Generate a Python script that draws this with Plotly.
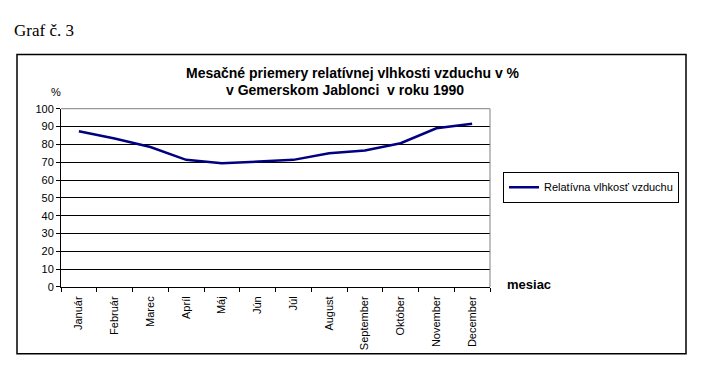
import plotly.graph_objects as go

months = ["Január", "Február", "Marec", "Apríl", "Máj", "Jún", "Júl",
          "August", "September", "Október", "November", "December"]
humidity = [87.3, 83.3, 78.5, 71.3, 69.4, 70.4, 71.3, 75.0, 76.6, 80.6, 89.0, 91.6]
y_ticks = [0, 10, 20, 30, 40, 50, 60, 70, 80, 90, 100]

W, H = 704, 385
px_l, px_r, px_t, px_b = 61, 490, 106, 290

fig = go.Figure()
fig.add_trace(go.Scatter(
    x=months, y=humidity, mode="lines",
    line=dict(color="#000080", width=2.5),
    name="Relatívna vlhkosť vzduchu",
))

fig.update_layout(
    width=W, height=H,
    margin=dict(l=0, r=0, t=0, b=0),
    paper_bgcolor="white", plot_bgcolor="white",
    font=dict(family="Liberation Sans, Arial, sans-serif", size=11, color="black"),
    showlegend=True,
    legend=dict(
        x=503 / W, y=1 - 171 / H, xanchor="left", yanchor="top",
        bordercolor="black", borderwidth=1, bgcolor="white",
        font=dict(size=11), itemwidth=30,
    ),
    xaxis=dict(
        domain=[px_l / W, px_r / W],
        type="category", categoryorder="array", categoryarray=months,
        tickson="boundaries", ticks="outside", ticklen=4, tickcolor="black",
        showline=True, linecolor="black", linewidth=1,
        showgrid=False, tickangle=-90, tickfont=dict(size=11),
        ticklabelstandoff=4,
        range=[-0.5, 11.5],
    ),
    yaxis=dict(
        domain=[1 - px_b / H, 1 - px_t / H],
        range=[0, 100], tickvals=y_ticks, ticktext=[str(v) for v in y_ticks],
        ticks="outside", ticklen=4, tickcolor="black",
        showline=True, linecolor="black", linewidth=1,
        showgrid=True, gridcolor="black", gridwidth=1,
        zeroline=False, tickfont=dict(size=11),
    ),
    shapes=[
        dict(type="rect", xref="paper", yref="paper",
             x0=17 / W, x1=686 / W, y0=1 - 359 / H, y1=1 - 50 / H,
             line=dict(color="black", width=1.5), layer="below"),
        dict(type="line", xref="x domain", yref="y domain",
             x0=0, x1=1, y0=1, y1=1, line=dict(color="#808080", width=1)),
        dict(type="line", xref="x domain", yref="y domain",
             x0=1, x1=1, y0=0, y1=1, line=dict(color="#808080", width=1)),
    ],
    annotations=[
        dict(text="Graf č. 3", xref="paper", yref="paper",
             x=12 / W, y=1 - 25 / H, xanchor="left", yanchor="middle",
             showarrow=False,
             font=dict(family="Liberation Serif, Times New Roman, serif", size=17)),
        dict(text="<b>Mesačné priemery relatívnej vlhkosti vzduchu v %</b>",
             xref="paper", yref="paper", x=353 / W, y=1 - 69 / H,
             xanchor="center", yanchor="middle", showarrow=False,
             font=dict(size=14)),
        dict(text="<b>v Gemerskom Jablonci  v roku 1990</b>",
             xref="paper", yref="paper", x=345 / W, y=1 - 87 / H,
             xanchor="center", yanchor="middle", showarrow=False,
             font=dict(size=14)),
        dict(text="%", xref="paper", yref="paper", x=56 / W, y=1 - 89 / H,
             xanchor="center", yanchor="middle", showarrow=False,
             font=dict(size=11)),
        dict(text="<b>mesiac</b>", xref="paper", yref="paper", x=505 / W, y=1 - 287 / H,
             xanchor="left", yanchor="middle", showarrow=False,
             font=dict(size=13)),
    ],
)

fig.write_html(
    "out.html",
    config={"displayModeBar": False},
    post_script="document.body.style.margin='0';document.body.style.overflow='hidden';",
)
